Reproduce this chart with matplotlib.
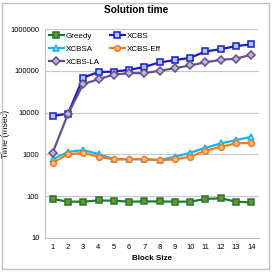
import numpy as np
import matplotlib.pyplot as plt
from matplotlib.patches import Rectangle

block_size = list(range(1, 15))
greedy = [86, 74, 74, 79, 78, 74, 75, 75, 74, 74, 86, 89, 74, 71]
xcbs = [8300, 9400, 69000, 93000, 96000, 105000, 124000, 159000, 180000, 205000, 290000, 330000, 390000, 430000]
xcbsa = [760, 1150, 1270, 1020, 770, 770, 770, 730, 880, 1090, 1440, 1830, 2200, 2640]
xcbs_eff = [630, 1000, 1090, 880, 760, 770, 770, 730, 760, 880, 1220, 1520, 1830, 1900]
xcbs_la = [1090, 9200, 48000, 63000, 81000, 88000, 88000, 100000, 116000, 134000, 160000, 183000, 195000, 243000]

plt.rcParams['font.family'] = ['Liberation Sans', 'DejaVu Sans']

fig = plt.figure(figsize=(2.72, 2.73), dpi=100)
ax = fig.add_axes([45/272, 1 - 238/273, 214/272, 209/273])

x = np.arange(len(block_size))
series = [
    ('Greedy', greedy, '#1b7a35', 's', '#7f8a2a', 4.0),
    ('XCBS', xcbs, '#1c1cc4', 's', '#a9c9ee', 4.0),
    ('XCBSA', xcbsa, '#1ab2ee', '^', '#8fd8f8', 4.3),
    ('XCBS-Eff', xcbs_eff, '#ee7b1e', 'o', '#f7b98a', 4.1),
    ('XCBS-LA', xcbs_la, '#64518a', 'D', '#bfb3d6', 3.6),
]
lines = {}
for name, vals, col, mk, face, ms in series:
    lines[name], = ax.plot(x, vals, color=col, lw=1.6, marker=mk, ms=ms, mfc=face,
                           mec=col, mew=1.1, label=name)

ax.set_yscale('log')
ax.set_ylim(10, 1000000)
ax.set_xlim(-0.5, len(block_size) - 0.5)
ax.set_xticks(x)
ax.set_xticklabels(block_size)
ax.set_yticks([10, 100, 1000, 10000, 100000, 1000000])
ax.set_yticklabels(['10', '100', '1000', '10000', '100000', '1000000'])
ax.minorticks_off()
ax.tick_params(axis='both', length=0, labelsize=5.5, pad=4)
ax.yaxis.grid(True, color='#c8c8c8', lw=0.8)
ax.set_axisbelow(True)
for s in ['top', 'right']:
    ax.spines[s].set_visible(False)
for s in ['left', 'bottom']:
    ax.spines[s].set_color('#bfbfbf')
    ax.spines[s].set_linewidth(0.8)

ax.set_xlabel('Block Size', fontsize=5.8, fontweight='bold', labelpad=3)
ax.set_ylabel('Time (msec)', fontsize=6.2)
ax.yaxis.set_label_coords(-0.165, 0.5)
fig.suptitle('Solution time', fontsize=7.3, fontweight='bold', y=1 - 5/273, va='top')

# row-wise legend order like Excel: Greedy XCBS / XCBSA XCBS-Eff / XCBS-LA
order = ['Greedy', 'XCBSA', 'XCBS-LA', 'XCBS', 'XCBS-Eff']
leg = ax.legend([lines[n] for n in order], order, loc='upper left', ncol=2,
                fontsize=5.8, frameon=False, borderaxespad=0.2,
                handlelength=1.9, handletextpad=0.25, columnspacing=1.2,
                labelspacing=0.62, borderpad=0.25)

fig.patches.append(Rectangle((2/272, 4/273), 267/272, 266/273, transform=fig.transFigure,
                             fill=False, edgecolor='#bfbfbf', lw=1))

fig.savefig('out.png', dpi=100)
